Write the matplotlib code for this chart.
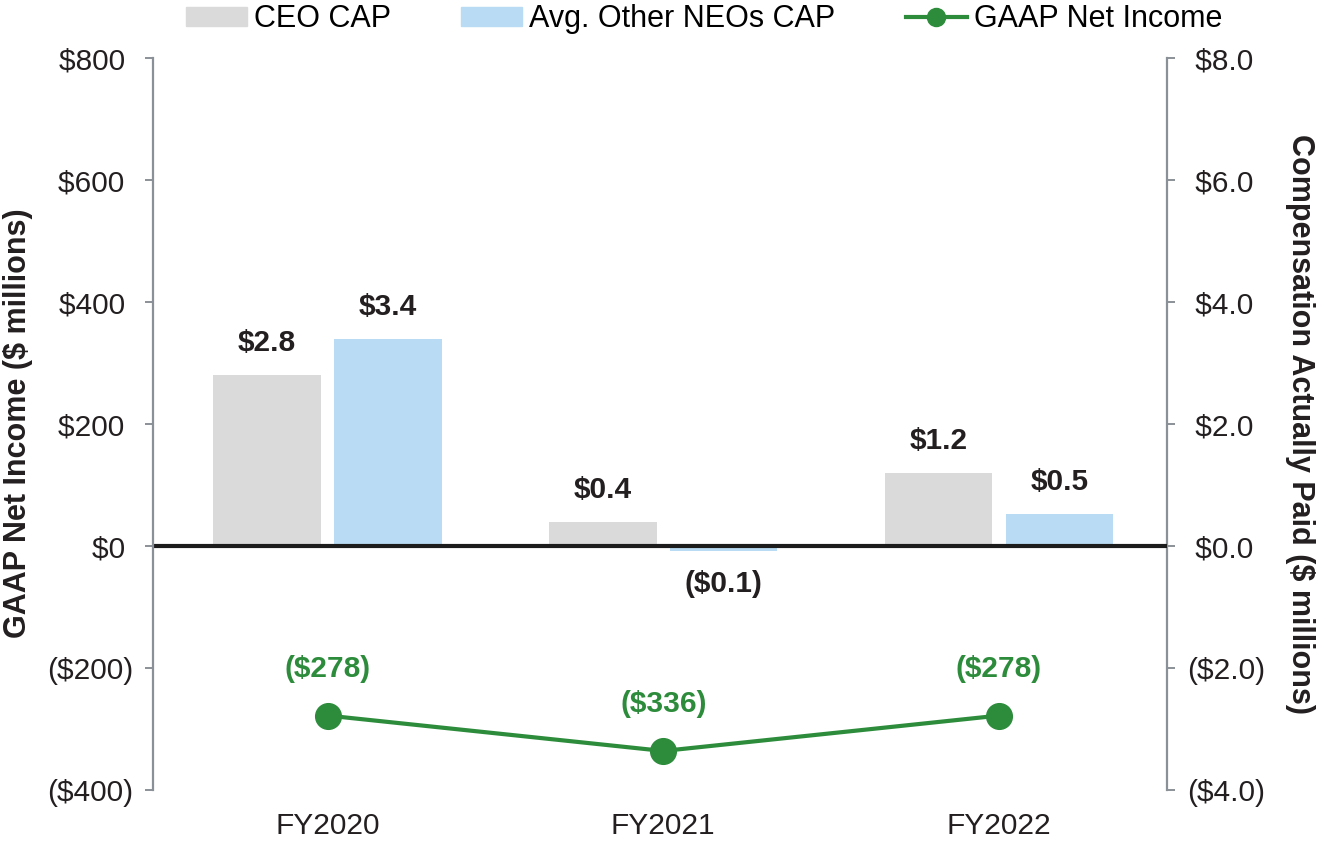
import numpy as np
import matplotlib.pyplot as plt
from matplotlib.patches import Patch
from matplotlib.lines import Line2D

years = ["FY2020", "FY2021", "FY2022"]
ceo_cap = [2.8, 0.4, 1.2]
neo_cap = [3.4, -0.08, 0.52]
net_income = [-278, -336, -278]

grey = "#dadadb"
blue = "#b9dcf4"
green = "#2d8c3c"
spine_col = "#8a9097"
txt = "#231f20"

plt.rcParams['font.family'] = ['Liberation Sans', 'DejaVu Sans']


def money(v, dec=0):
    s = f"${abs(v):.{dec}f}"
    return f"({s})" if v < 0 else s


fig = plt.figure(figsize=(13.17, 8.47), dpi=100)
ax = fig.add_axes([0.1162, 0.0673, 0.7698, 0.8642])
ax2 = ax.twinx()

x = np.arange(len(years))
w = 0.32
off = 0.18

# compensation bars (right axis)
ax2.bar(x - off, ceo_cap, w, color=grey, zorder=2)
ax2.bar(x + off, neo_cap, w, color=blue, zorder=2)
ax2.axhline(0, color="#1c1c1c", lw=3, zorder=3)
for xs, vals in ((x - off, ceo_cap), (x + off, neo_cap)):
    for xi, v in zip(xs, vals):
        dy = 23 if v >= 0 else -24
        ax2.annotate(money(v, 1), (xi, v), xytext=(0, dy), textcoords="offset points",
                     ha="center", va="center", fontsize=21.5, fontweight="bold", color=txt)
ax2.set_ylim(-4, 8)
rt = np.arange(-4, 9, 2)
ax2.set_yticks(rt)
ax2.set_yticklabels([money(t, 1) if t < 0 else " " + money(t, 1) for t in rt])

# net income line (left axis), drawn above the bars
ax.set_zorder(ax2.get_zorder() + 1)
ax.patch.set_visible(False)
ax.plot(x, net_income, color=green, lw=3, marker="o", markersize=18.5, zorder=4)
for xi, v in zip(x, net_income):
    ax.annotate(money(v), (xi, v), xytext=(0, 33.5), textcoords="offset points",
                ha="center", va="center", fontsize=21.5, fontweight="bold", color=green)
ax.set_ylim(-400, 800)
lt = np.arange(-400, 801, 200)
ax.set_yticks(lt)
ax.set_yticklabels([money(t) if t < 0 else money(t) + " " for t in lt])
ax.set_xlim(-0.52, 2.5)
ax.set_xticks(x)
ax.set_xticklabels(years)

for a in (ax, ax2):
    for s in ("top", "bottom"):
        a.spines[s].set_visible(False)
    for s in ("left", "right"):
        a.spines[s].set_color(spine_col)
        a.spines[s].set_linewidth(1.6)
    a.tick_params(axis="y", length=5.5, width=1.4, color=spine_col, labelsize=21.5,
                  labelcolor=txt, pad=9)
ax.spines["right"].set_visible(False)
ax2.spines["left"].set_visible(False)
ax.tick_params(axis="x", length=0, labelsize=21.5, labelcolor=txt, pad=16)

# axis titles
fig.text(18 / 1317, 1 - 423 / 847, "GAAP Net Income ($ millions)", rotation=90,
         ha="center", va="center", fontsize=22, fontweight="bold", color=txt)
fig.text(1300 / 1317, 1 - 424 / 847, "Compensation Actually Paid ($ millions)", rotation=270,
         ha="center", va="center", fontsize=22, fontweight="bold", color=txt)

handles = [Patch(color=grey), Patch(color=blue),
           Line2D([0], [0], color=green, lw=3, marker="o", markersize=13)]
labels = ["CEO CAP", "Avg. Other NEOs CAP", "GAAP Net Income"]
fig.legend(handles, labels, loc="center", bbox_to_anchor=(0.5345, 1 - 19 / 847), ncol=3,
           frameon=False, fontsize=22, handlelength=2.0, handleheight=0.6,
           columnspacing=2.3, handletextpad=0.23, borderpad=0, borderaxespad=0)

fig.savefig("out.png", dpi=100)
